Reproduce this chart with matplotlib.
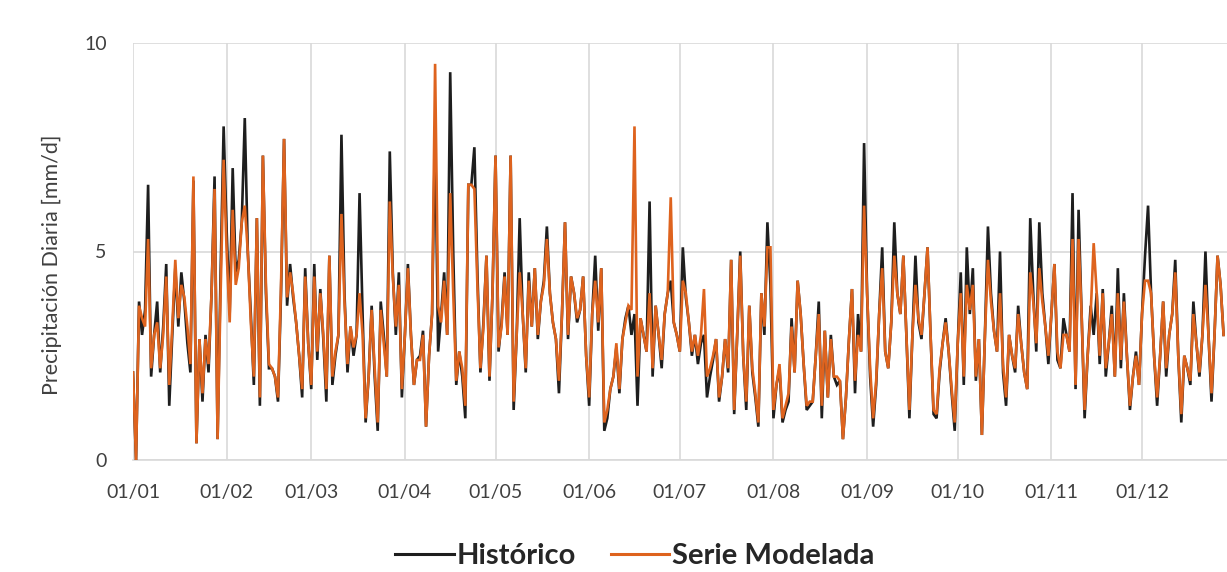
import matplotlib
matplotlib.use("Agg")
import matplotlib.pyplot as plt

month_starts = [0, 31, 59, 90, 120, 151, 181, 212, 243, 273, 304, 334]
month_labels = ["01/01", "01/02", "01/03", "01/04", "01/05", "01/06",
                "01/07", "01/08", "01/09", "01/10", "01/11", "01/12"]

historico = [
    2.1, 0.0, 3.8, 3.0, 3.6, 6.6, 2.0, 3.0, 3.8, 2.1,
    3.2, 4.7, 1.3, 3.0, 4.6, 3.2, 4.5, 3.8, 2.8, 2.1,
    6.7, 0.4, 2.9, 1.4, 3.0, 2.1, 4.0, 6.8, 0.5, 4.5,
    8.0, 5.5, 3.5, 7.0, 4.5, 4.8, 5.7, 8.2, 5.0, 3.5,
    1.8, 5.8, 1.3, 7.3, 4.0, 2.2, 2.2, 2.0, 1.4, 4.0,
    7.7, 3.7, 4.7, 3.9, 3.3, 2.5, 1.5, 4.6, 2.8, 1.7,
    4.7, 2.4, 4.1, 2.9, 1.4, 4.9, 1.8, 2.5, 3.0, 7.8,
    4.0, 2.1, 3.2, 2.5, 3.0, 6.4, 3.5, 0.9, 2.0, 3.7,
    2.0, 0.7, 3.8, 3.0, 2.0, 7.4, 4.5, 3.0, 4.5, 1.5,
    3.0, 4.7, 3.0, 1.8, 2.4, 2.5, 3.1, 0.8, 2.5, 3.5,
    8.0, 2.6, 3.5, 4.5, 3.0, 9.3, 5.0, 1.8, 2.6, 2.0,
    1.0, 6.6, 6.6, 7.5, 4.5, 2.1, 3.3, 4.9, 1.9, 4.0,
    7.3, 2.6, 3.3, 4.5, 3.0, 7.3, 1.2, 3.0, 5.8, 3.5,
    2.1, 4.5, 3.2, 4.6, 2.9, 3.8, 4.3, 5.6, 4.0, 3.3,
    2.9, 1.6, 3.5, 5.7, 2.9, 4.4, 4.0, 3.3, 3.6, 4.4,
    2.5, 1.3, 3.5, 4.9, 3.1, 4.6, 0.7, 1.0, 1.7, 2.0,
    2.7, 1.6, 2.9, 3.4, 3.7, 3.0, 3.5, 1.3, 3.4, 3.0,
    2.6, 6.2, 2.0, 3.7, 3.0, 2.2, 3.5, 4.0, 4.3, 3.3,
    3.0, 2.6, 5.1, 3.9, 3.3, 2.5, 3.0, 2.3, 2.8, 3.0,
    1.5, 2.0, 2.4, 2.9, 1.4, 2.0, 2.9, 2.1, 4.8, 1.1,
    3.0, 5.0, 2.5, 1.2, 3.7, 2.1, 1.5, 0.8, 4.0, 3.0,
    5.7, 4.2, 1.0, 1.8, 2.2, 0.9, 1.2, 1.4, 3.4, 2.1,
    4.3, 3.5, 2.3, 1.2, 1.3, 1.4, 2.5, 3.8, 1.0, 3.1,
    1.5, 3.0, 2.0, 1.8, 1.9, 0.5, 1.5, 2.9, 4.1, 1.6,
    3.5, 2.6, 7.6, 4.0, 2.0, 0.8, 1.8, 3.5, 5.1, 2.6,
    2.2, 3.3, 5.7, 4.0, 3.5, 4.9, 3.0, 1.0, 3.0, 4.9,
    3.3, 2.9, 4.0, 5.1, 3.0, 1.1, 1.0, 2.1, 2.8, 3.4,
    2.6, 1.6, 0.7, 2.8, 4.5, 1.8, 5.1, 3.5, 4.6, 1.9,
    2.9, 0.6, 3.0, 5.6, 4.0, 3.1, 2.6, 5.0, 2.1, 1.3,
    3.0, 2.5, 2.1, 3.7, 2.8, 2.1, 1.7, 5.8, 4.0, 2.6,
    5.7, 4.0, 3.2, 2.3, 3.5, 4.7, 2.4, 2.2, 3.4, 3.0,
    2.6, 6.4, 1.7, 6.0, 3.5, 1.0, 2.5, 3.7, 3.0, 4.0,
    2.3, 4.1, 2.0, 2.8, 3.7, 2.0, 4.6, 2.2, 4.0, 2.5,
    1.2, 2.0, 2.6, 1.8, 3.5, 4.9, 6.1, 4.0, 2.5, 1.3,
    2.5, 3.8, 2.0, 3.0, 3.5, 4.8, 2.5, 0.9, 2.5, 2.2,
    1.8, 3.8, 2.8, 2.0, 3.0, 5.0, 3.0, 1.4, 3.0, 4.9,
    4.2, 3.0,
]

serie_modelada = [
    2.1, 0.0, 3.7, 3.4, 3.2, 5.3, 2.2, 3.0, 3.3, 2.2,
    3.0, 4.4, 1.8, 3.2, 4.8, 3.4, 4.2, 3.9, 3.2, 2.3,
    6.8, 0.4, 2.9, 1.6, 2.9, 2.3, 4.0, 6.5, 0.5, 4.0,
    7.2, 5.0, 3.3, 6.0, 4.2, 4.6, 5.7, 6.1, 5.0, 3.3,
    2.0, 5.8, 1.5, 7.3, 4.2, 2.3, 2.2, 2.0, 1.5, 4.2,
    7.7, 3.9, 4.5, 4.0, 3.3, 2.5, 1.7, 4.4, 2.8, 1.8,
    4.4, 2.6, 4.0, 3.0, 1.7, 4.9, 2.0, 2.6, 3.0, 5.9,
    3.8, 2.3, 3.2, 2.7, 3.0, 4.0, 3.0, 1.0, 2.0, 3.6,
    2.2, 0.9, 3.6, 2.8, 2.0, 6.2, 4.4, 3.2, 4.2, 1.7,
    3.0, 4.6, 3.0, 1.8, 2.4, 2.4, 3.0, 0.8, 2.5, 3.5,
    9.5, 3.7, 3.3, 4.3, 3.0, 6.4, 4.0, 1.9, 2.6, 2.2,
    1.3, 6.6, 6.6, 6.5, 4.2, 2.2, 3.2, 4.9, 2.0, 4.0,
    7.3, 2.7, 3.2, 4.4, 3.0, 7.3, 1.4, 3.0, 4.5, 3.5,
    2.2, 4.3, 3.2, 4.6, 3.0, 3.8, 4.2, 5.3, 4.0, 3.3,
    2.9, 1.9, 3.5, 5.7, 3.0, 4.4, 4.0, 3.4, 3.6, 4.4,
    2.5, 1.5, 3.5, 4.3, 3.3, 4.6, 0.9, 1.2, 1.7, 2.0,
    2.8, 1.7, 2.9, 3.3, 3.7, 3.6, 8.0, 2.0, 3.4, 3.0,
    2.6, 4.0, 2.2, 3.7, 3.0, 2.4, 3.5, 4.0, 6.3, 3.3,
    3.0, 2.6, 4.3, 4.0, 3.3, 2.6, 3.0, 2.5, 3.0, 4.1,
    2.0, 2.2, 2.5, 2.9, 1.5, 2.0, 2.9, 2.2, 4.8, 1.2,
    3.0, 4.9, 2.5, 1.4, 3.7, 2.2, 1.6, 0.9, 4.0, 3.2,
    5.1, 5.1, 1.2, 1.8, 2.3, 1.0, 1.3, 1.6, 3.2, 2.1,
    4.3, 3.5, 2.3, 1.3, 1.4, 1.4, 2.5, 3.5, 1.3, 3.1,
    1.5, 2.9, 2.0, 2.0, 1.9, 0.5, 1.5, 2.9, 4.1, 1.9,
    3.0, 2.6, 6.1, 4.0, 2.2, 1.0, 1.9, 3.5, 4.6, 2.6,
    2.2, 3.3, 4.9, 4.0, 3.5, 4.9, 3.0, 1.2, 3.0, 4.2,
    3.4, 3.0, 4.0, 5.1, 3.0, 1.2, 1.1, 2.2, 2.8, 3.3,
    2.6, 1.7, 0.9, 2.8, 4.0, 2.0, 4.2, 3.6, 4.2, 2.0,
    2.9, 0.6, 3.0, 4.8, 3.8, 3.1, 2.6, 4.0, 2.3, 1.5,
    3.0, 2.5, 2.2, 3.5, 2.8, 2.1, 1.7, 4.5, 3.8, 2.8,
    4.6, 3.8, 3.2, 2.5, 3.5, 4.7, 2.6, 2.2, 3.0, 3.0,
    2.6, 5.3, 1.8, 5.3, 3.5, 1.2, 2.5, 3.5, 5.2, 4.0,
    2.5, 4.0, 2.2, 2.8, 3.5, 2.0, 4.0, 2.4, 3.8, 2.5,
    1.3, 2.0, 2.5, 1.8, 3.5, 4.3, 4.3, 4.0, 2.5, 1.5,
    2.5, 3.8, 2.2, 3.0, 3.5, 4.5, 2.5, 1.1, 2.5, 2.2,
    1.9, 3.5, 2.8, 2.1, 3.0, 4.2, 3.0, 1.6, 3.0, 4.9,
    4.2, 3.0,
]

days = list(range(len(historico)))

W, H = 1227, 572
fig = plt.figure(figsize=(W / 100, H / 100), dpi=100)
ax = fig.add_axes([133 / W, 1 - 460 / H, (W - 133) / W, (460 - 43) / H])

grid_c = "#d9d9d9"
ax.plot(days, historico, color="#1e1e1e", lw=1.9, label="Histórico",
        solid_joinstyle="miter", zorder=3)
ax.plot(days, serie_modelada, color="#de631e", lw=1.9, label="Serie Modelada",
        solid_joinstyle="miter", zorder=4)

ax.set_xlim(0, (W - 133) / 3.021)
ax.set_ylim(0, 10)
ax.set_xticks(month_starts)
ax.set_xticklabels(month_labels)
ax.set_yticks([0, 5, 10])
ax.set_yticklabels(["0", "5", "10"])

for s in ["top", "right", "left"]:
    ax.spines[s].set_visible(False)
ax.spines["bottom"].set_color(grid_c)
ax.spines["bottom"].set_linewidth(1.2)
ax.grid(True, color=grid_c, lw=1.2, zorder=0)
ax.set_axisbelow(True)

font = "Lato"
ax.tick_params(axis="both", length=0, labelsize=14, labelcolor="#404040")
ax.tick_params(axis="x", pad=17)
ax.tick_params(axis="y", pad=19)
for lab in ax.get_xticklabels() + ax.get_yticklabels():
    lab.set_fontfamily(font)

fig.text(52 / W, 1 - 265 / H, "Precipitación Diaria [mm/d]", rotation=90,
         ha="center", va="center", fontsize=15.5, color="#404040",
         family=font)

leg = fig.legend(loc="center", bbox_to_anchor=(635 / W, 1 - 556 / H),
                 ncol=2, frameon=False, handlelength=2.0, handletextpad=0.1,
                 columnspacing=1.2, prop={"family": font, "weight": "bold",
                                          "size": 21})
for line in leg.get_lines():
    line.set_linewidth(2.2)
for t in leg.get_texts():
    t.set_color("#262626")

fig.savefig("out.png", dpi=100)
